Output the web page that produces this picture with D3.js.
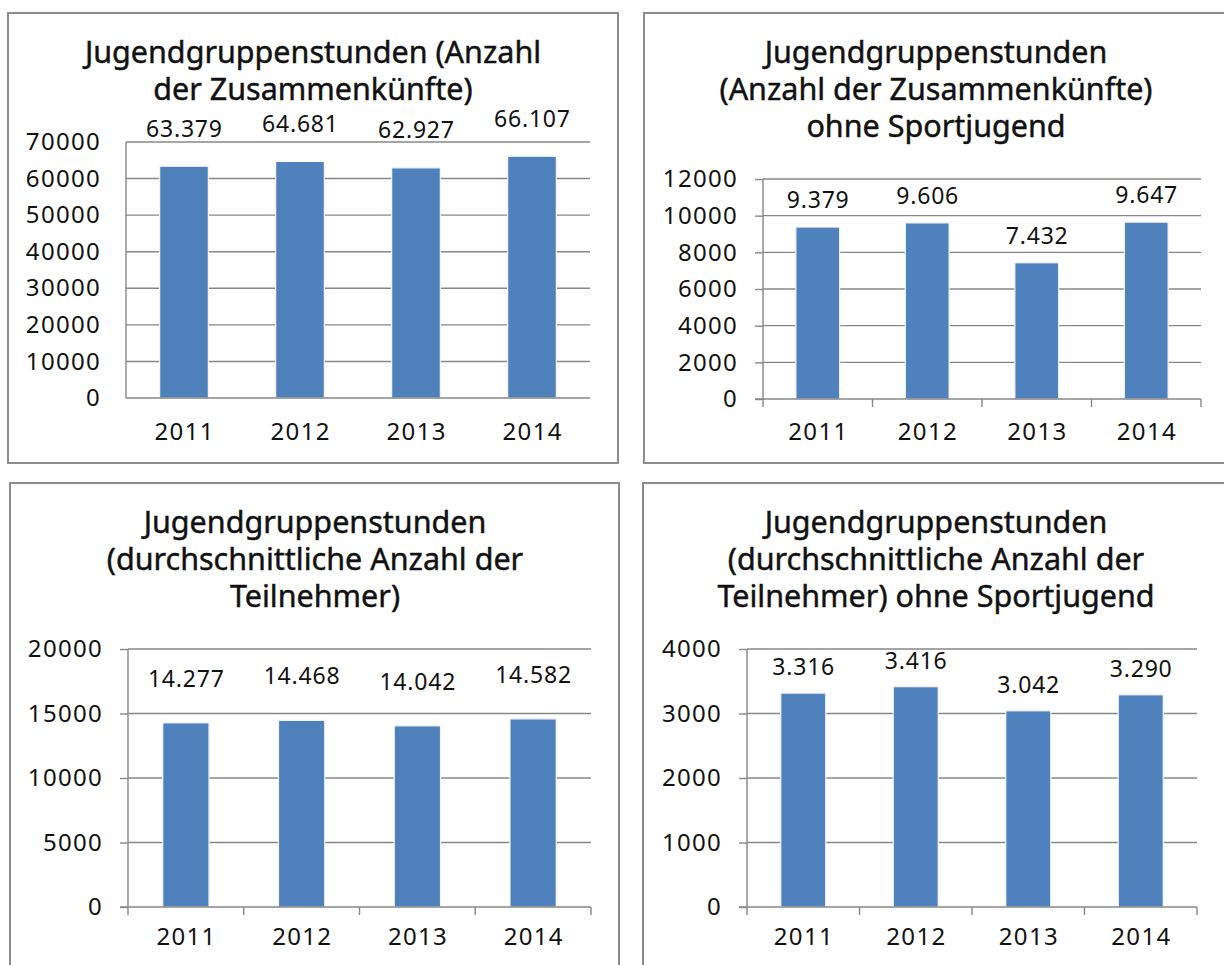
<!DOCTYPE html>
<html>
<head>
<meta charset="utf-8">
<script src="https://cdn.jsdelivr.net/npm/d3@7"></script>
<style>
  html, body { margin: 0; padding: 0; background: #fff; }
  svg { display: block; font-family: "Noto Sans", "Open Sans", sans-serif; }
</style>
</head>
<body>
<svg id="chart" width="1224" height="965"></svg>
<script>
// Jahre und Werte der vier Diagramme
const years = ["2011", "2012", "2013", "2014"];
const meetings = [63379, 64681, 62927, 66107];
const meetingsNoSport = [9379, 9606, 7432, 9647];
const participants = [14277, 14468, 14042, 14582];
const participantsNoSport = [3316, 3416, 3042, 3290];

// Achsenbeschriftungen (y)
const ticksMeetings = [0, 10000, 20000, 30000, 40000, 50000, 60000, 70000];
const ticksMeetingsNoSport = [0, 2000, 4000, 6000, 8000, 10000, 12000];
const ticksParticipants = [0, 5000, 10000, 15000, 20000];
const ticksParticipantsNoSport = [0, 1000, 2000, 3000, 4000];

// Diagrammtitel
const titleMeetings = ["Jugendgruppenstunden (Anzahl", "der Zusammenkünfte)"];
const titleMeetingsNoSport = ["Jugendgruppenstunden", "(Anzahl der Zusammenkünfte)", "ohne Sportjugend"];
const titleParticipants = ["Jugendgruppenstunden", "(durchschnittliche Anzahl der", "Teilnehmer)"];
const titleParticipantsNoSport = ["Jugendgruppenstunden", "(durchschnittliche Anzahl der", "Teilnehmer) ohne Sportjugend"];

const de = d3.formatLocale({ decimal: ",", thousands: ".", grouping: [3], currency: ["", " €"] });
const fmtValue = de.format(",");

const BAR = "#4f81bd";
const GRID = "#878787";
const FRAME = "#8c8c8c";
const INK = "#111";

const panels = [
  { title: titleMeetings, values: meetings, ticks: ticksMeetings,
    frame: [8, 13, 618, 463], titleX: 313, titleY: [63, 100],
    x0: 126, x1: 590, y0: 398, y1: 142, outerTicks: false, barRatio: 0.42,
    labelOffset: 37.5, xLabelY: 432 },
  { title: titleMeetingsNoSport, values: meetingsNoSport, ticks: ticksMeetingsNoSport,
    frame: [644, 13, 1234, 463], titleX: 936, titleY: [63, 100, 137],
    x0: 763, x1: 1201, y0: 399, y1: 179, outerTicks: true, barRatio: 0.40,
    labelOffset: 27, xLabelY: 432 },
  { title: titleParticipants, values: participants, ticks: ticksParticipants,
    frame: [10, 483, 619, 990], titleX: 315, titleY: [533, 570, 607],
    x0: 128, x1: 591, y0: 907, y1: 649, outerTicks: true, barRatio: 0.40,
    labelOffset: 44, xLabelY: 937 },
  { title: titleParticipantsNoSport, values: participantsNoSport, ticks: ticksParticipantsNoSport,
    frame: [643, 483, 1234, 990], titleX: 936, titleY: [533, 570, 607],
    x0: 747, x1: 1197, y0: 907, y1: 649, outerTicks: true, barRatio: 0.40,
    labelOffset: 26, xLabelY: 937 }
];

const svg = d3.select("#chart");

panels.forEach(p => {
  const g = svg.append("g");
  const [fx0, fy0, fx1, fy1] = p.frame;

  // Rahmen
  g.append("rect")
    .attr("x", fx0).attr("y", fy0)
    .attr("width", fx1 - fx0).attr("height", fy1 - fy0)
    .attr("fill", "#fff").attr("stroke", FRAME).attr("stroke-width", 2);

  // Titel
  const t = g.append("text")
    .attr("text-anchor", "middle")
    .attr("font-size", 30.5)
    .attr("fill", INK)
    .attr("stroke", INK)
    .attr("stroke-width", 0.45);
  p.title.forEach((line, i) => {
    t.append("tspan").attr("x", p.titleX).attr("y", p.titleY[i]).text(line);
  });

  const y = d3.scaleLinear()
    .domain([0, d3.max(p.ticks)])
    .range([p.y0, p.y1]);

  const x = d3.scaleBand()
    .domain(years)
    .range([p.x0, p.x1])
    .paddingInner(1 - p.barRatio)
    .paddingOuter((1 - p.barRatio) / 2);

  const step = x.step();
  const tickLen = p.outerTicks ? 8 : 0;

  // Gitterlinien
  g.append("g").selectAll("line")
    .data(p.ticks.filter(v => v > 0))
    .join("line")
    .attr("x1", p.x0).attr("x2", p.x1)
    .attr("y1", d => y(d)).attr("y2", d => y(d))
    .attr("stroke", GRID).attr("stroke-width", 1.4);

  // y-Achse
  const yAxis = d3.axisLeft(y)
    .tickValues(p.ticks)
    .tickFormat(d3.format("d"))
    .tickSizeInner(tickLen)
    .tickSizeOuter(0)
    .tickPadding(25 - tickLen);
  const ya = g.append("g")
    .attr("transform", `translate(${p.x0},0)`)
    .call(yAxis);
  ya.select(".domain").remove();
  ya.selectAll(".tick line").attr("stroke", GRID).attr("stroke-width", 1.4);
  ya.selectAll(".tick text")
    .attr("font-size", 24)
    .attr("letter-spacing", 1.3)
    .attr("font-family", "Noto Sans, Open Sans, sans-serif")
    .attr("fill", INK);

  // Balken
  g.append("g").selectAll("rect")
    .data(years.map((yr, i) => ({ yr, v: p.values[i] })))
    .join("rect")
    .attr("x", d => x(d.yr))
    .attr("y", d => y(d.v))
    .attr("width", x.bandwidth())
    .attr("height", d => y(0) - y(d.v))
    .attr("fill", BAR)
    .attr("stroke", "#f2f5fa")
    .attr("stroke-width", 1.2);

  // Achsenlinien
  g.append("line")
    .attr("x1", p.x0).attr("x2", p.x0)
    .attr("y1", p.y1).attr("y2", p.y0 + tickLen)
    .attr("stroke", GRID).attr("stroke-width", 1.4);
  g.append("line")
    .attr("x1", p.x0 - tickLen).attr("x2", p.x1)
    .attr("y1", p.y0).attr("y2", p.y0)
    .attr("stroke", GRID).attr("stroke-width", 1.4);

  // Kategorie-Trennstriche unter der x-Achse
  if (p.outerTicks) {
    g.append("g").selectAll("line")
      .data(years)
      .join("line")
      .attr("x1", d => x(d) + x.bandwidth() / 2 + step / 2)
      .attr("x2", d => x(d) + x.bandwidth() / 2 + step / 2)
      .attr("y1", p.y0).attr("y2", p.y0 + tickLen)
      .attr("stroke", GRID).attr("stroke-width", 1.4);
  }

  // x-Beschriftung
  g.append("g").selectAll("text")
    .data(years)
    .join("text")
    .attr("x", d => x(d) + x.bandwidth() / 2 + 0.65)
    .attr("y", p.xLabelY)
    .attr("dy", "0.35em")
    .attr("text-anchor", "middle")
    .attr("font-size", 24)
    .attr("letter-spacing", 1.3)
    .attr("fill", INK)
    .text(d => d);

  // Wertbeschriftungen
  g.append("g").selectAll("text")
    .data(years.map((yr, i) => ({ yr, v: p.values[i] })))
    .join("text")
    .attr("x", d => x(d.yr) + x.bandwidth() / 2 + 0.4)
    .attr("y", d => y(d.v) - p.labelOffset)
    .attr("dy", "0.35em")
    .attr("text-anchor", "middle")
    .attr("font-size", 23)
    .attr("letter-spacing", 0.8)
    .attr("fill", INK)
    .text(d => fmtValue(d.v));
});
</script>
</body>
</html>
